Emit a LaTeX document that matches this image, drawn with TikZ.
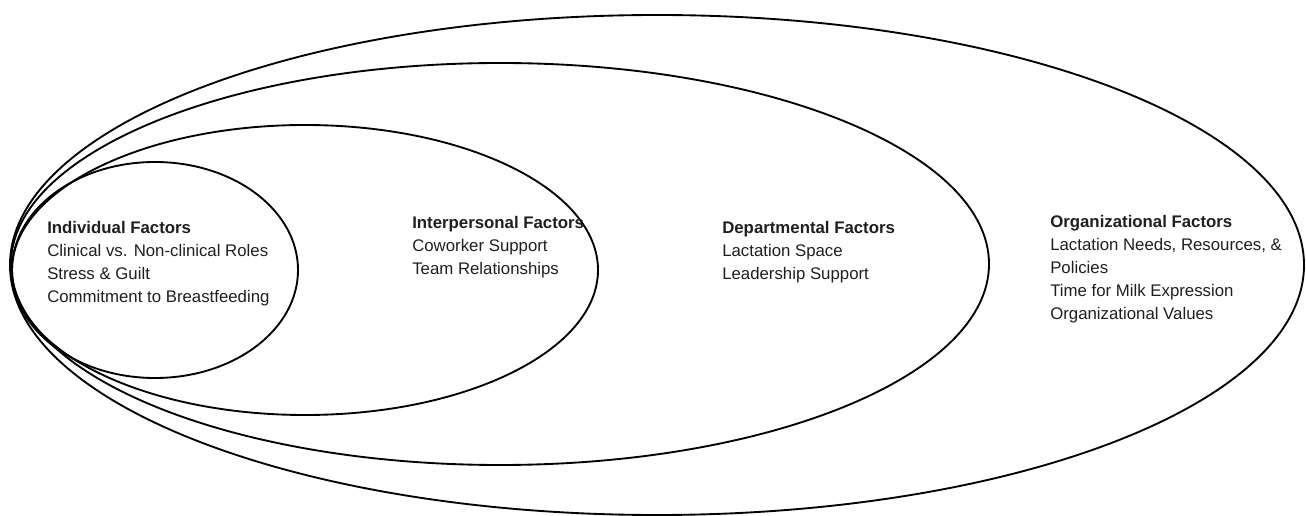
\documentclass[tikz,border=0pt]{standalone}
\usepackage{fontspec}
\setmainfont{Liberation Sans}
\usetikzlibrary{positioning}

\begin{document}
\begin{tikzpicture}[x=0.75pt,y=-0.75pt
    , ring/.style={draw=black,line width=1.4pt}
    , every node/.style={inner sep=0pt}
    , factor/.style={anchor=north west,align=left,text=black!88,
        font=\fontsize{12.6}{17.25}\selectfont}
]
    \useasboundingbox (0,0) rectangle (1306,516);

    % Nested levels, all touching on the left.
    \draw[ring] (657,265) ellipse [x radius=647,y radius=250];
    \draw[ring] (500,264) ellipse [x radius=489,y radius=201];
    \draw[ring] (305,270) ellipse [x radius=293,y radius=145];
    \draw[ring] (155,270) ellipse [x radius=143,y radius=108];

    % Labels
    \node[factor] (individual) at (47,221)
        {\textbf{Individual Factors}\\Clinical vs. Non-clinical Roles\\Stress \& Guilt\\Commitment to Breastfeeding};
    \node[factor] (interpersonal) at (412,216)
        {\textbf{Interpersonal Factors}\\Coworker Support\\Team Relationships};
    \node[factor] (departmental) at (722,221)
        {\textbf{Departmental Factors}\\Lactation Space\\Leadership Support};
    \node[factor] (organizational) at (1050,215)
        {\textbf{Organizational Factors}\\Lactation Needs, Resources, \&\\Policies\\Time for Milk Expression\\Organizational Values};

\end{tikzpicture}
\end{document}
